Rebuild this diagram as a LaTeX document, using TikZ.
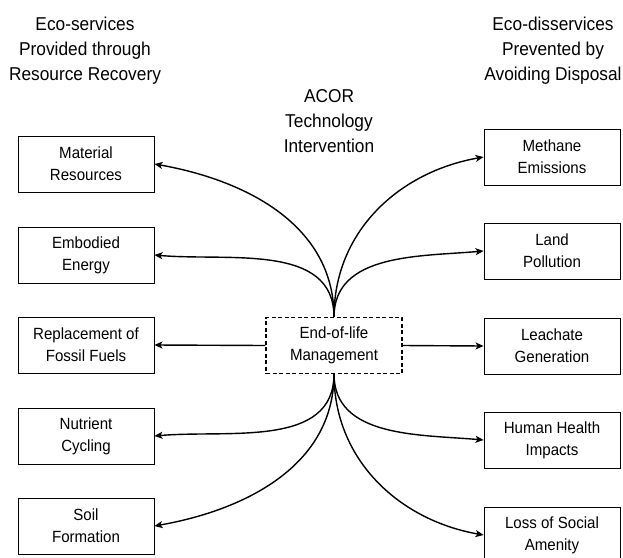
\documentclass[tikz,border=0pt]{standalone}
\usepackage{fontspec}
\setmainfont{Liberation Sans}[FakeStretch=0.93]
\usetikzlibrary{arrows.meta}
\tikzset{
  box/.style={draw, line width=0.9pt, minimum width=136pt, minimum height=56pt,
    inner sep=0pt, align=center, font=\fontsize{16.2}{22}\selectfont},
  centerbox/.style={box, dashed, dash pattern=on 4pt off 2.5pt, line width=1.1pt},
  head/.style={align=center, inner sep=0pt, font=\fontsize{18.6}{25}\selectfont},
  link/.style={line width=1.4pt, -{Stealth[length=8pt,width=7pt,inset=2pt]}}
}
\begin{document}
\begin{tikzpicture}[x=1pt,y=1pt]
\useasboundingbox (0,0) rectangle (623,-557);

% headings
\node[head] (hl) at (85,-51) {Eco-services\\Provided through\\Resource Recovery};
\node[head] (hr) at (553,-51) {Eco-disservices\\Prevented by\\Avoiding Disposal};
\node[head] (hc) at (329,-121) {ACOR\\Technology\\Intervention};

% central activity
\node[centerbox] (eol) at (334,-345.5) {End-of-life\\Management};

% services provided (left column)
\node[box] (mat)  at (86,-164) {Material\\Resources};
\node[box] (emb)  at (86,-255) {Embodied\\Energy};
\node[box] (rep)  at (86,-345) {Replacement of\\Fossil Fuels};
\node[box] (nut)  at (86,-436) {Nutrient\\Cycling};
\node[box] (soil) at (86,-526) {Soil\\Formation};

% disservices prevented (right column)
\node[box] (meth) at (552,-157) {Methane\\Emissions};
\node[box] (land) at (552,-251) {Land\\Pollution};
\node[box] (leach) at (552,-346) {Leachate\\Generation};
\node[box] (hum)  at (552,-440) {Human Health\\Impacts};
\node[box] (loss) at (552,-535) {Loss of Social\\Amenity};

% connectors
\draw[link] (eol.north) to[out=90,in=-10] (mat.east);
\draw[link] (eol.north) to[out=90,in=-5] (emb.east);
\draw[link] (eol.west) -- (rep.east);
\draw[link] (eol.south) to[out=-90,in=5] (nut.east);
\draw[link] (eol.south) to[out=-90,in=10] (soil.east);

\draw[link] (eol.north) to[out=90,in=190] (meth.west);
\draw[link] (eol.north) to[out=90,in=185] (land.west);
\draw[link] (eol.east) -- (leach.west);
\draw[link] (eol.south) to[out=-90,in=175] (hum.west);
\draw[link] (eol.south) to[out=-90,in=170] (loss.west);
\end{tikzpicture}
\end{document}
